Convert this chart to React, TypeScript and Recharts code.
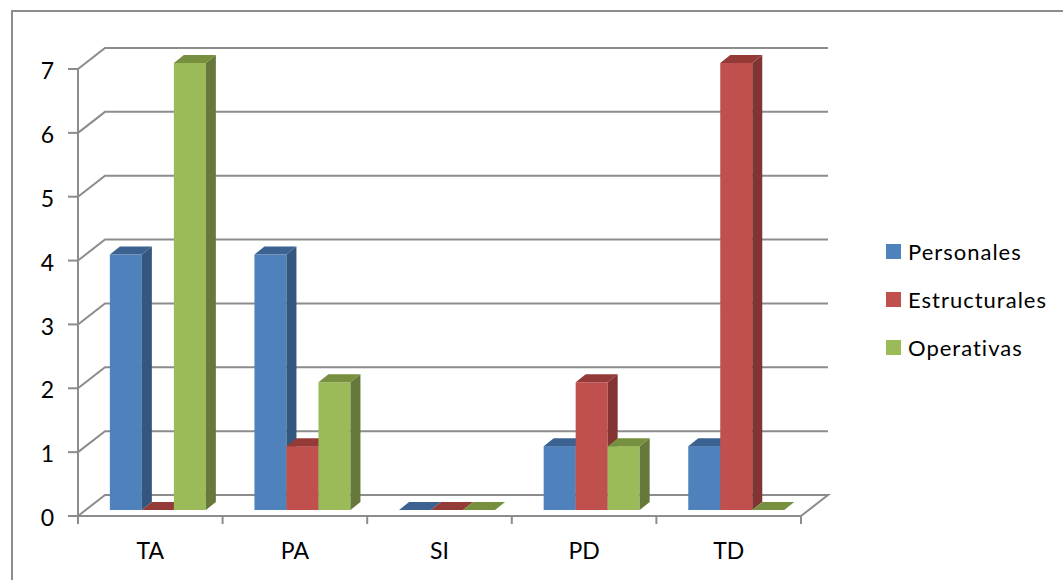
import React from "react";
import {
  BarChart,
  Bar,
  XAxis,
  YAxis,
  CartesianGrid,
} from "recharts";

const categories = ["TA", "PA", "SI", "PD", "TD"];
const personales = [4, 4, 0, 1, 1];
const estructurales = [0, 1, 0, 2, 7];
const operativas = [7, 2, 0, 1, 0];
const yTicks = [0, 1, 2, 3, 4, 5, 6, 7];

const data = categories.map((name, i) => ({
  name,
  Personales: personales[i],
  Estructurales: estructurales[i],
  Operativas: operativas[i],
}));

const FONT = "Lato, 'Open Sans', sans-serif";
const GRID = "#8c8c8c";
const PLOT_W = 723;
const BAND = PLOT_W / categories.length;

// back wall offset and bar depth offsets (3D look)
const WALL_DX = 27;
const WALL_DY = -21;
const BAR_DX = 8;
const BAR_DY = -6;
const DEPTH_X = 10;
const DEPTH_Y = -8;

const makeShape = (front: string, side: string, top: string) => (props: any) => {
  const { x, y, width, height } = props;
  if (x == null || y == null) return null;
  const fx = x + BAR_DX;
  const fy = y + BAR_DY;
  const h = Math.max(height || 0, 0);
  const w = width;
  return (
    <g>
      {h > 0 && <rect x={fx} y={fy} width={w} height={h} fill={front} />}
      {h > 0 && (
        <polygon
          points={`${fx + w},${fy} ${fx + w + DEPTH_X},${fy + DEPTH_Y} ${fx + w + DEPTH_X},${fy + h + DEPTH_Y} ${fx + w},${fy + h}`}
          fill={side}
        />
      )}
      <polygon
        points={`${fx},${fy} ${fx + DEPTH_X},${fy + DEPTH_Y} ${fx + w + DEPTH_X},${fy + DEPTH_Y} ${fx + w},${fy}`}
        fill={top}
      />
    </g>
  );
};

const series = [
  { key: "Personales", color: "#4F81BD", side: "#35577F", top: "#3B6290" },
  { key: "Estructurales", color: "#C0504D", side: "#833432", top: "#943B38" },
  { key: "Operativas", color: "#9BBB59", side: "#66793A", top: "#76903F" },
];

const GridLine = (props: any) => {
  const { x1, x2, y1, index } = props;
  const bx = x1 + WALL_DX;
  const by = y1 + WALL_DY;
  let d = `M${x1},${y1} L${bx},${by} L${x2 + WALL_DX},${by}`;
  // floor: close the right edge back to the front axis
  if (Math.abs(y1 - 516) < 2) {
    d += ` L${x2},${y1}`;
  }
  return <path key={`g-${index}`} d={d} stroke={GRID} strokeWidth={2} fill="none" />;
};

const XTick = (props: any) => {
  const { x, y, payload, index } = props;
  const left = x - BAND / 2;
  const right = x + BAND / 2;
  const axisY = y - 10;
  return (
    <g>
      <line x1={left} y1={axisY} x2={left} y2={axisY + 8} stroke={GRID} strokeWidth={2} />
      {index === categories.length - 1 && (
        <line x1={right} y1={axisY} x2={right} y2={axisY + 8} stroke={GRID} strokeWidth={2} />
      )}
      <text
        x={x}
        y={axisY + 34}
        textAnchor="middle"
        dominantBaseline="central"
        fontFamily={FONT}
        fontSize={23}
        fill="#000"
      >
        {payload.value}
      </text>
    </g>
  );
};

const ChartLegend = () => (
  <div
    style={{
      position: "absolute",
      left: 886,
      top: 227,
      fontFamily: FONT,
      fontSize: 22,
      letterSpacing: 1,
      color: "#000",
    }}
  >
    {series.map((s) => (
      <div
        key={s.key}
        style={{ display: "flex", alignItems: "center", height: 48 }}
      >
        <span
          style={{
            display: "inline-block",
            width: 15,
            height: 15,
            background: s.color,
            marginRight: 7,
          }}
        />
        <span>{s.key}</span>
      </div>
    ))}
  </div>
);

export default function App() {
  return (
    <div
      style={{
        position: "absolute",
        left: 0,
        top: 0,
        width: 1063,
        height: 580,
        overflow: "hidden",
        background: "#fff",
      }}
    >
      <div
        style={{
          position: "absolute",
          left: 11,
          top: 10,
          width: 1100,
          height: 620,
          border: "2px solid #8c8c8c",
          boxSizing: "border-box",
        }}
      />
      <div style={{ position: "absolute", left: 0, top: 0 }}>
        <BarChart
          width={1063}
          height={580}
          data={data}
          margin={{ top: 69, right: 262, bottom: 34, left: 38 }}
          barCategoryGap="16.5%"
          barGap={0}
        >
          <CartesianGrid vertical={false} horizontal={GridLine} />
          <XAxis
            dataKey="name"
            height={30}
            axisLine={{ stroke: GRID, strokeWidth: 2 }}
            tickLine={false}
            tickSize={10}
            tickMargin={0}
            tick={XTick}
            interval={0}
          />
          <YAxis
            width={40}
            domain={[0, 7]}
            ticks={yTicks}
            interval={0}
            axisLine={{ stroke: GRID, strokeWidth: 2 }}
            tickLine={{ stroke: GRID, strokeWidth: 2 }}
            tickSize={10}
            tickMargin={14}
            tick={{ fontFamily: FONT, fontSize: 23, fill: "#000", dy: 2 }}
          />
          {series.map((s) => (
            <Bar
              key={s.key}
              dataKey={s.key}
              fill={s.color}
              isAnimationActive={false}
              shape={makeShape(s.color, s.side, s.top)}
            />
          ))}
        </BarChart>
      </div>
      <ChartLegend />
    </div>
  );
}
